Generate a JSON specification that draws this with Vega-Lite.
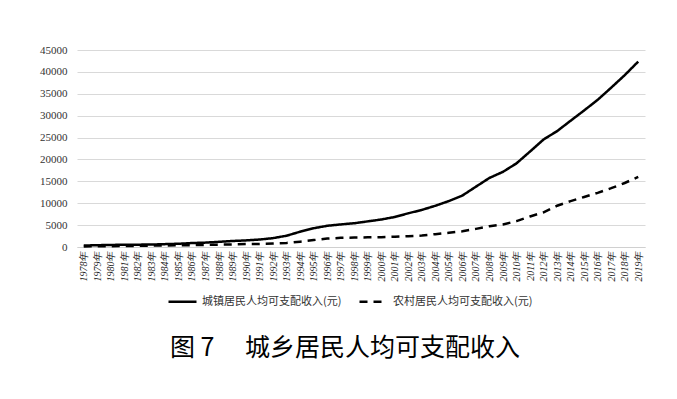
{
  "$schema": "https://vega.github.io/schema/vega-lite/v6.json",
  "autosize": "none",
  "width": 568,
  "height": 197,
  "padding": {"left": 77, "top": 50, "right": 32, "bottom": 152},
  "background": "white",
  "title": {
    "text": "图 7　 城乡居民人均可支配收入",
    "orient": "bottom",
    "font": "Noto Sans CJK SC",
    "fontSize": 25,
    "fontWeight": "normal",
    "color": "#000000",
    "offset": 29,
    "dx": -16
  },
  "data": {
    "values": [
      {"year": "1978年", "urban": 343.4, "rural": 133.6},
      {"year": "1979年", "urban": 405, "rural": 160.2},
      {"year": "1980年", "urban": 477.6, "rural": 191.3},
      {"year": "1981年", "urban": 500.4, "rural": 223.4},
      {"year": "1982年", "urban": 535.3, "rural": 270.1},
      {"year": "1983年", "urban": 564.6, "rural": 309.8},
      {"year": "1984年", "urban": 652.1, "rural": 355.3},
      {"year": "1985年", "urban": 739.1, "rural": 397.6},
      {"year": "1986年", "urban": 900.9, "rural": 423.8},
      {"year": "1987年", "urban": 1002.1, "rural": 462.6},
      {"year": "1988年", "urban": 1180.2, "rural": 544.9},
      {"year": "1989年", "urban": 1373.9, "rural": 601.5},
      {"year": "1990年", "urban": 1510.2, "rural": 686.3},
      {"year": "1991年", "urban": 1700.6, "rural": 708.6},
      {"year": "1992年", "urban": 2026.6, "rural": 784},
      {"year": "1993年", "urban": 2577.4, "rural": 921.6},
      {"year": "1994年", "urban": 3496.2, "rural": 1221},
      {"year": "1995年", "urban": 4283, "rural": 1577.7},
      {"year": "1996年", "urban": 4838.9, "rural": 1926.1},
      {"year": "1997年", "urban": 5160.3, "rural": 2090.1},
      {"year": "1998年", "urban": 5425.1, "rural": 2162},
      {"year": "1999年", "urban": 5854, "rural": 2210.3},
      {"year": "2000年", "urban": 6280, "rural": 2253.4},
      {"year": "2001年", "urban": 6859.6, "rural": 2366.4},
      {"year": "2002年", "urban": 7702.8, "rural": 2475.6},
      {"year": "2003年", "urban": 8472.2, "rural": 2622.2},
      {"year": "2004年", "urban": 9421.6, "rural": 2936.4},
      {"year": "2005年", "urban": 10493, "rural": 3254.9},
      {"year": "2006年", "urban": 11759.5, "rural": 3587},
      {"year": "2007年", "urban": 13785.8, "rural": 4140.4},
      {"year": "2008年", "urban": 15780.8, "rural": 4760.6},
      {"year": "2009年", "urban": 17174.7, "rural": 5153.2},
      {"year": "2010年", "urban": 19109.4, "rural": 5919},
      {"year": "2011年", "urban": 21809.8, "rural": 6977.3},
      {"year": "2012年", "urban": 24564.7, "rural": 7916.6},
      {"year": "2013年", "urban": 26467, "rural": 9429.6},
      {"year": "2014年", "urban": 28844, "rural": 10489},
      {"year": "2015年", "urban": 31195, "rural": 11422},
      {"year": "2016年", "urban": 33616, "rural": 12363},
      {"year": "2017年", "urban": 36396, "rural": 13432},
      {"year": "2018年", "urban": 39251, "rural": 14617},
      {"year": "2019年", "urban": 42359, "rural": 16021}
    ]
  },
  "transform": [
    {"fold": ["urban", "rural"], "as": ["key", "value"]},
    {"lookup": "key", "from": {"data": {"values": [
      {"key": "urban", "series": "城镇居民人均可支配收入(元)"},
      {"key": "rural", "series": "农村居民人均可支配收入(元)"}
    ]}, "key": "key", "fields": ["series"]}}
  ],
  "mark": {"type": "line", "color": "#000000", "strokeWidth": 2.5},
  "encoding": {
    "x": {
      "field": "year",
      "type": "ordinal",
      "scale": {"type": "point", "padding": 0.5},
      "axis": {
        "title": null,
        "labelAngle": -90,
        "labelFont": "Liberation Serif",
        "labelFontStyle": "italic",
        "labelFontSize": 10,
        "labelColor": "#222222",
        "domainColor": "#d0d0d0",
        "ticks": false,
        "labelPadding": 4,
        "grid": false
      }
    },
    "y": {
      "field": "value",
      "type": "quantitative",
      "scale": {"domain": [0, 45000], "nice": false},
      "axis": {
        "title": null,
        "values": [0, 5000, 10000, 15000, 20000, 25000, 30000, 35000, 40000, 45000],
        "format": "d",
        "labelFont": "Liberation Serif",
        "labelFontSize": 11,
        "labelColor": "#333333",
        "domain": false,
        "ticks": false,
        "labelPadding": 10,
        "gridColor": "#d9d9d9",
        "gridWidth": 1
      }
    },
    "strokeDash": {
      "field": "series",
      "type": "nominal",
      "scale": {
        "domain": ["城镇居民人均可支配收入(元)", "农村居民人均可支配收入(元)"],
        "range": [[1, 0], [8, 6]]
      },
      "legend": {
        "title": null,
        "orient": "none",
        "legendX": 90,
        "legendY": 236,
        "direction": "horizontal",
        "symbolType": "stroke",
        "symbolStrokeColor": "#000000",
        "symbolStrokeWidth": 2.5,
        "symbolSize": 784,
        "labelFont": "Noto Sans CJK SC",
        "labelFontSize": 11,
        "labelColor": "#333333",
        "columnPadding": 12
      }
    }
  },
  "config": {"view": {"stroke": null}}
}
